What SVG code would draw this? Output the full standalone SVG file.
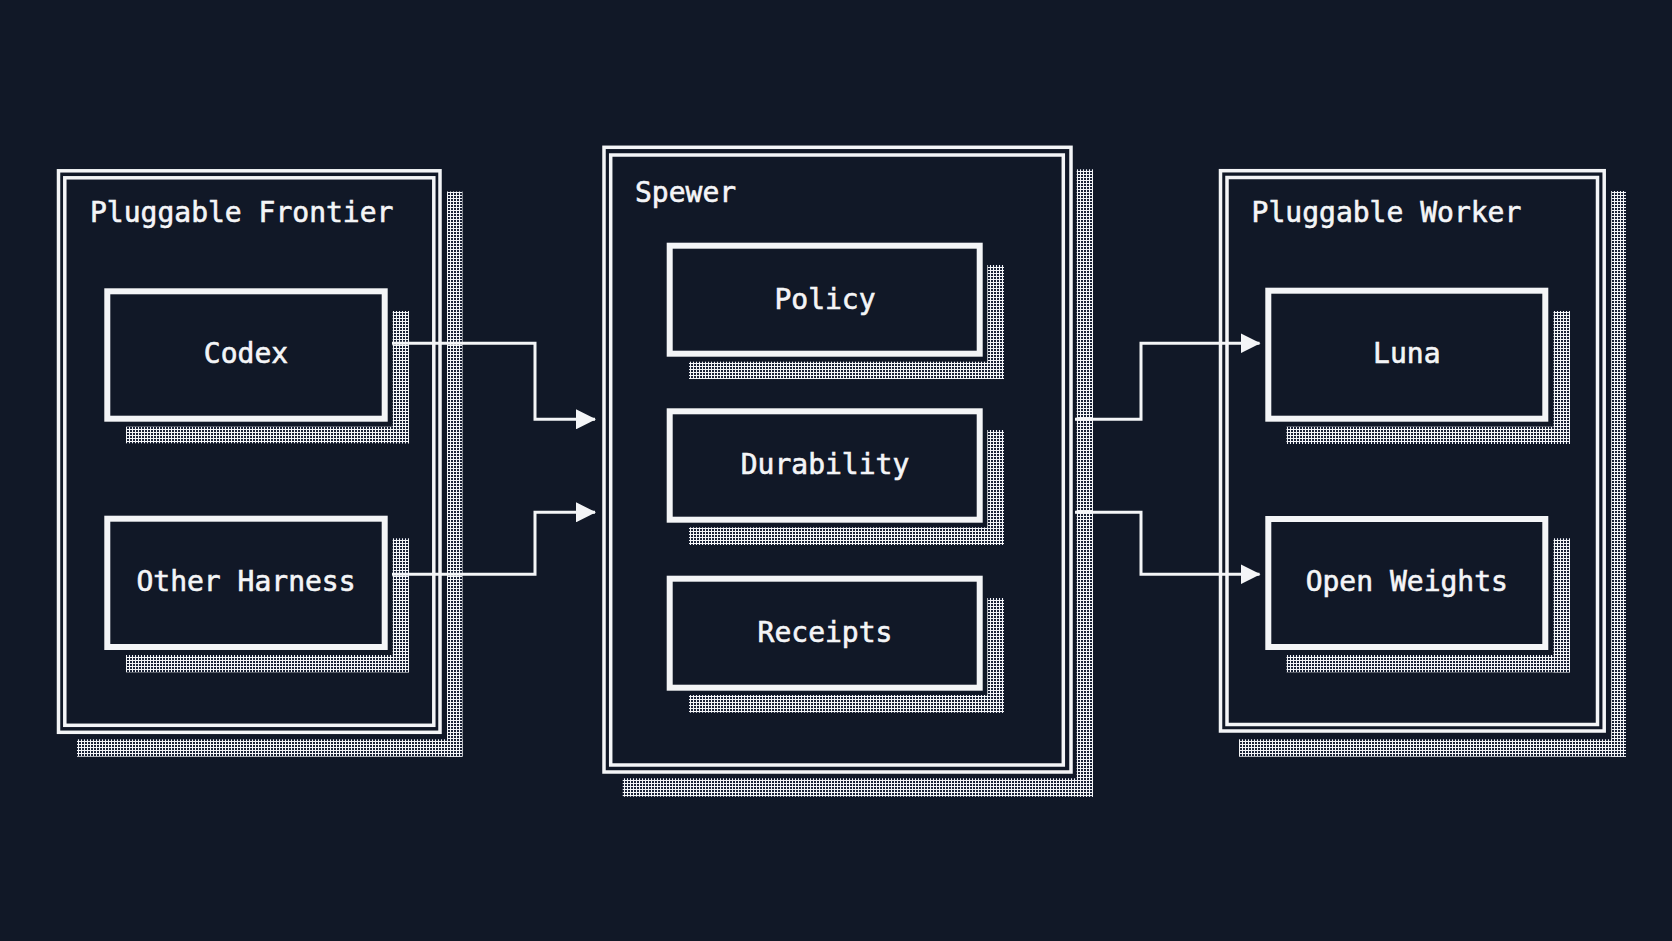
<svg xmlns="http://www.w3.org/2000/svg" width="1672" height="941" viewBox="0 0 1672 941">
  <defs>
    <pattern id="dots" x="0" y="0" width="3" height="3" patternUnits="userSpaceOnUse">
      <rect width="3" height="3" fill="#f4f5f7"/>
      <rect x="1" y="1" width="2" height="2" fill="#1a2236"/>
    </pattern>
    <marker id="arrow" viewBox="0 0 20 20" refX="19" refY="10" markerWidth="20" markerHeight="20" markerUnits="userSpaceOnUse" orient="auto">
      <path d="M0,0 L20,10 L0,20 Z" fill="#f4f5f7"/>
    </marker>
    <style>
      .bg { fill: #111827; }
      .frame { fill: none; stroke: #f4f5f7; stroke-width: 3.5; }
      .box { fill: #111827; stroke: #f4f5f7; stroke-width: 6; }
      .shadow { fill: url(#dots); }
      .title { font-family: "DejaVu Sans Mono", "Liberation Mono", monospace; font-size: 28px; fill: #f4f5f7; stroke: #f4f5f7; stroke-width: 0.6; }
      .label { font-family: "DejaVu Sans Mono", "Liberation Mono", monospace; font-size: 28px; fill: #f4f5f7; stroke: #f4f5f7; stroke-width: 0.6; text-anchor: middle; }
      .conn { fill: none; stroke: #f4f5f7; stroke-width: 3; stroke-linejoin: miter; stroke-linecap: butt; }
    </style>
  </defs>
  <rect class="bg" x="0" y="0" width="1672" height="941"/>

  <!-- Pluggable Frontier -->
  <g id="frontier">
    <rect class="shadow" x="447" y="191.5" width="15.5" height="565.2"/>
    <rect class="shadow" x="77" y="739.3" width="385.5" height="17.4"/>
    <rect class="frame" x="58.5" y="170.8" width="381.5" height="561.5"/>
    <rect class="frame" x="64.8" y="177.8" width="369" height="547.5"/>
    <text class="title" x="90" y="221.7">Pluggable Frontier</text>
  </g>
  <g id="codex">
    <rect class="shadow" x="392.7" y="311" width="16.3" height="132.3"/>
    <rect class="shadow" x="126" y="426.7" width="283" height="16.6"/>
    <rect class="box" x="107.3" y="291.3" width="277.4" height="127.4"/>
    <text class="label" x="246" y="363">Codex</text>
  </g>
  <g id="other-harness">
    <rect class="shadow" x="392.7" y="538.3" width="16.3" height="134"/>
    <rect class="shadow" x="126" y="655" width="283" height="17.3"/>
    <rect class="box" x="107.3" y="518.7" width="277.4" height="128.3"/>
    <text class="label" x="246" y="590.7">Other Harness</text>
  </g>

  <!-- Spewer -->
  <g id="spewer">
    <rect class="shadow" x="1076.7" y="169.3" width="16.3" height="627.4"/>
    <rect class="shadow" x="622.7" y="778.3" width="470.3" height="18.4"/>
    <rect class="frame" x="604" y="147.3" width="467" height="624.7"/>
    <rect class="frame" x="610.7" y="155" width="452.6" height="610"/>
    <text class="title" x="635" y="201.7">Spewer</text>
  </g>
  <g id="policy">
    <rect class="shadow" x="987.3" y="265" width="16.7" height="114"/>
    <rect class="shadow" x="689" y="361.7" width="315" height="17.3"/>
    <rect class="box" x="669.7" y="245.7" width="310" height="108"/>
    <text class="label" x="825" y="308.8">Policy</text>
  </g>
  <g id="durability">
    <rect class="shadow" x="987.3" y="430" width="16.7" height="115"/>
    <rect class="shadow" x="689" y="527.3" width="315" height="17.7"/>
    <rect class="box" x="669.7" y="411.3" width="310" height="108.4"/>
    <text class="label" x="825" y="473.8">Durability</text>
  </g>
  <g id="receipts">
    <rect class="shadow" x="987.3" y="598" width="16.7" height="114.7"/>
    <rect class="shadow" x="689" y="695" width="315" height="17.7"/>
    <rect class="box" x="669.7" y="578.7" width="310" height="109"/>
    <text class="label" x="825" y="642">Receipts</text>
  </g>

  <!-- Pluggable Worker -->
  <g id="worker">
    <rect class="shadow" x="1611.2" y="191" width="14.8" height="565.7"/>
    <rect class="shadow" x="1239" y="739.3" width="387" height="17.4"/>
    <rect class="frame" x="1220.5" y="170.7" width="383.7" height="560.3"/>
    <rect class="frame" x="1227" y="177.5" width="370.5" height="547"/>
    <text class="title" x="1251.6" y="221.7">Pluggable Worker</text>
  </g>
  <g id="luna">
    <rect class="shadow" x="1553.5" y="311" width="16.5" height="133"/>
    <rect class="shadow" x="1286.5" y="426.7" width="283.5" height="17.3"/>
    <rect class="box" x="1268.3" y="290.7" width="277" height="128"/>
    <text class="label" x="1406.8" y="363">Luna</text>
  </g>
  <g id="open-weights">
    <rect class="shadow" x="1553.5" y="538.3" width="16.5" height="134"/>
    <rect class="shadow" x="1286.5" y="655" width="283.5" height="17.3"/>
    <rect class="box" x="1268.3" y="519" width="277" height="128"/>
    <text class="label" x="1406.8" y="590.7">Open Weights</text>
  </g>

  <!-- Connectors -->
  <g id="connectors">
    <path class="conn" d="M392,343.3 H535 V419.3 H595" marker-end="url(#arrow)"/>
    <path class="conn" d="M392,574.3 H535 V512.3 H595" marker-end="url(#arrow)"/>
    <path class="conn" d="M1075,419.3 H1141 V343.3 H1259.5" marker-end="url(#arrow)"/>
    <path class="conn" d="M1075,512.3 H1141 V574.3 H1259.5" marker-end="url(#arrow)"/>
  </g>
</svg>
